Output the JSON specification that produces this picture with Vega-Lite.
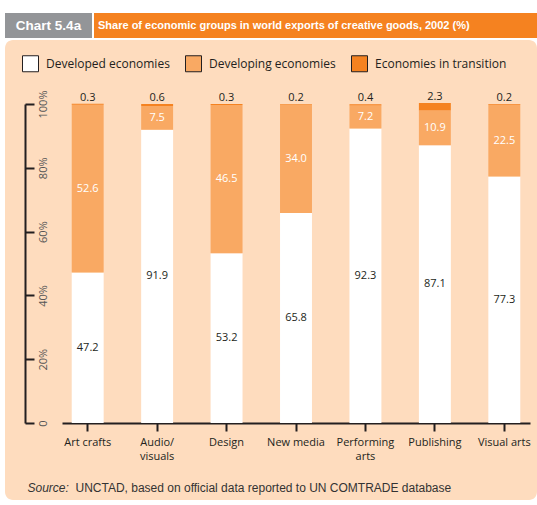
{
  "$schema": "https://vega.github.io/schema/vega-lite/v6.json",
  "background": "white",
  "padding": {"left": 5, "top": 13, "right": 0, "bottom": 5},
  "spacing": 2,
  "config": {"view": {"stroke": null}},
  "resolve": {"legend": {"color": "independent"}, "scale": {"color": "independent"}},
  "datasets": {
    "exports": [
      {"cat": "Art crafts", "grp": "Developed economies", "value": 47.2},
      {"cat": "Art crafts", "grp": "Developing economies", "value": 52.6},
      {"cat": "Art crafts", "grp": "Economies in transition", "value": 0.3},
      {"cat": "Audio/visuals", "grp": "Developed economies", "value": 91.9},
      {"cat": "Audio/visuals", "grp": "Developing economies", "value": 7.5},
      {"cat": "Audio/visuals", "grp": "Economies in transition", "value": 0.6},
      {"cat": "Design", "grp": "Developed economies", "value": 53.2},
      {"cat": "Design", "grp": "Developing economies", "value": 46.5},
      {"cat": "Design", "grp": "Economies in transition", "value": 0.3},
      {"cat": "New media", "grp": "Developed economies", "value": 65.8},
      {"cat": "New media", "grp": "Developing economies", "value": 34.0},
      {"cat": "New media", "grp": "Economies in transition", "value": 0.2},
      {"cat": "Performing arts", "grp": "Developed economies", "value": 92.3},
      {"cat": "Performing arts", "grp": "Developing economies", "value": 7.2},
      {"cat": "Performing arts", "grp": "Economies in transition", "value": 0.4},
      {"cat": "Publishing", "grp": "Developed economies", "value": 87.1},
      {"cat": "Publishing", "grp": "Developing economies", "value": 10.9},
      {"cat": "Publishing", "grp": "Economies in transition", "value": 2.3},
      {"cat": "Visual arts", "grp": "Developed economies", "value": 77.3},
      {"cat": "Visual arts", "grp": "Developing economies", "value": 22.5},
      {"cat": "Visual arts", "grp": "Economies in transition", "value": 0.2}
    ]
  },
  "vconcat": [
    {
      "spacing": 2,
      "hconcat": [
        {
          "width": 87,
          "height": 25,
          "view": {"fill": "#939598", "stroke": null},
          "data": {"values": [{"t": "Chart 5.4a"}]},
          "mark": {"type": "text", "color": "white", "font": "Liberation Sans", "fontWeight": "bold", "fontSize": 13.5, "baseline": "middle"},
          "encoding": {"text": {"field": "t"}}
        },
        {
          "width": 443,
          "height": 25,
          "view": {"fill": "#f58220", "stroke": null},
          "data": {"values": [{"t": "Share of economic groups in world exports of creative goods, 2002 (%)"}]},
          "mark": {"type": "text", "color": "white", "font": "Liberation Sans", "fontWeight": "bold", "fontSize": 11, "align": "left", "baseline": "middle"},
          "encoding": {
            "x": {"field": "t", "type": "nominal", "axis": null,
                  "scale": {"type": "point", "range": [4, 443], "padding": 0, "align": 0}},
            "text": {"field": "t"}
          }
        }
      ]
    },
    {
      "width": 532,
      "height": 460,
      "view": {"fill": "#fedcbe", "stroke": null, "cornerRadius": 8},
      "data": {"name": "exports"},
      "encoding": {
        "x": {
          "field": "cat",
          "type": "nominal",
          "sort": null,
          "scale": {"range": [57, 525], "paddingInner": 0.54, "paddingOuter": 0.14},
          "axis": {
            "orient": "bottom",
            "offset": -77,
            "domainColor": "#231f20",
            "domainWidth": 2,
            "tickColor": "#231f20",
            "tickWidth": 2,
            "tickSize": 8,
            "labelPadding": 5,
            "labelAngle": 0,
            "labelAlign": "center",
            "labelBaseline": "top",
            "labelColor": "#231f20",
            "labelFont": "Open Sans",
            "labelFontSize": 11,
            "labelLineHeight": 14,
            "labelOverlap": false,
            "labelExpr": "datum.label == 'Audio/visuals' ? ['Audio/', 'visuals'] : datum.label == 'Performing arts' ? ['Performing', 'arts'] : datum.label",
            "title": "UNCTAD, based on official data reported to UN COMTRADE database",
            "titleX": 70,
            "titleY": 68,
            "titleAlign": "left",
            "titleBaseline": "alphabetic",
            "titleFont": "Liberation Sans",
            "titleFontSize": 12,
            "titleFontWeight": "normal",
            "titleColor": "#333333"
          }
        }
      },
      "layer": [
        {
          "mark": {"type": "bar"},
          "encoding": {
            "y": {
              "field": "value",
              "type": "quantitative",
              "stack": "zero",
              "scale": {"domain": [0, 100], "range": [383, 64], "nice": false},
              "axis": {
                "orient": "left",
                "offset": -20,
                "values": [0, 20, 40, 60, 80, 100],
                "labelExpr": "datum.value == 0 ? '0' : datum.value + '%'",
                "grid": false,
                "domainColor": "#231f20",
                "domainWidth": 2,
                "tickColor": "#231f20",
                "tickWidth": 2,
                "tickSize": -9,
                "labelPadding": -3,
                "labelAngle": -90,
                "labelAlign": "center",
                "labelBaseline": "top",
                "labelColor": "#555555",
                "labelFont": "Open Sans",
                "labelFontSize": 11,
                "labelOverlap": false,
                "title": "Source:",
                "titleAngle": 0,
                "titleX": 2,
                "titleY": 451,
                "titleAlign": "left",
                "titleBaseline": "alphabetic",
                "titleFont": "Liberation Sans",
                "titleFontStyle": "italic",
                "titleFontWeight": "normal",
                "titleFontSize": 12,
                "titleColor": "#333333"
              }
            },
            "color": {
              "field": "grp",
              "type": "nominal",
              "scale": {
                "domain": ["Developed economies", "Developing economies", "Economies in transition"],
                "range": ["#ffffff", "#f9a963", "#f58220"]
              },
              "legend": {
                "orient": "none",
                "legendX": 17,
                "legendY": 15,
                "direction": "horizontal",
                "title": null,
                "symbolType": "square",
                "symbolSize": 256,
                "symbolStrokeColor": "#231f20",
                "symbolStrokeWidth": 1,
                "symbolOpacity": 1,
                "labelFont": "Open Sans",
                "labelFontSize": 12,
                "labelColor": "#231f20",
                "labelOffset": 7,
                "columnPadding": 13,
                "encode": {"symbols": {"update": {"stroke": {"value": "#231f20"}, "strokeWidth": {"value": 1}}}}
              }
            },
            "order": {"field": "grp", "sort": "ascending"}
          }
        },
        {
          "transform": [
            {"stack": "value", "groupby": ["cat"], "sort": [{"field": "grp", "order": "ascending"}], "as": ["v0", "v1"]},
            {"calculate": "(datum.v0 + datum.v1) / 2", "as": "mid"},
            {"filter": "datum.grp == 'Developed economies'"}
          ],
          "mark": {"type": "text", "font": "Open Sans", "fontSize": 11, "color": "#231f20", "baseline": "middle"},
          "encoding": {
            "y": {"field": "mid", "type": "quantitative"},
            "text": {"field": "value", "type": "quantitative", "format": ".1f"}
          }
        },
        {
          "transform": [
            {"stack": "value", "groupby": ["cat"], "sort": [{"field": "grp", "order": "ascending"}], "as": ["v0", "v1"]},
            {"calculate": "(datum.v0 + datum.v1) / 2", "as": "mid"},
            {"filter": "datum.grp == 'Developing economies'"}
          ],
          "mark": {"type": "text", "font": "Open Sans", "fontSize": 11, "color": "white", "baseline": "middle"},
          "encoding": {
            "y": {"field": "mid", "type": "quantitative"},
            "text": {"field": "value", "type": "quantitative", "format": ".1f"}
          }
        },
        {
          "transform": [
            {"stack": "value", "groupby": ["cat"], "sort": [{"field": "grp", "order": "ascending"}], "as": ["v0", "v1"]},
            {"filter": "datum.grp == 'Economies in transition'"}
          ],
          "mark": {"type": "text", "font": "Open Sans", "fontSize": 11, "color": "#231f20", "baseline": "bottom", "dy": -1},
          "encoding": {
            "y": {"field": "v1", "type": "quantitative"},
            "text": {"field": "value", "type": "quantitative", "format": ".1f"}
          }
        }
      ]
    }
  ]
}
